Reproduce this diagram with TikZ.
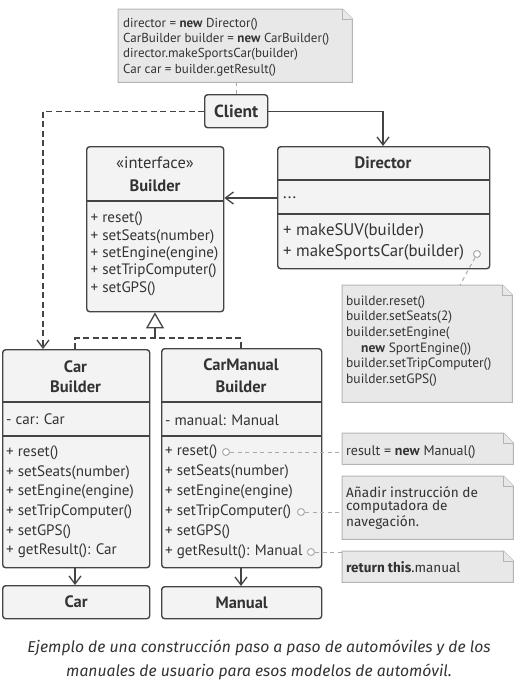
\documentclass[tikz,border=0pt]{standalone}
\usepackage{fontspec}
\setmainfont{PT Sans}
\newfontfamily\capfont{Fira Sans}
\usetikzlibrary{arrows.meta,calc}
\definecolor{lineC}{HTML}{444444}
\definecolor{boxC}{HTML}{F3F3F3}
\definecolor{noteF}{HTML}{E8E8E8}
\definecolor{noteD}{HTML}{B4B4B4}
\definecolor{textC}{HTML}{333333}
\definecolor{lightC}{HTML}{AAAAAA}
\begin{document}
\begin{tikzpicture}[x=1pt,y=-1pt,
  cls/.style={draw=lineC, fill=boxC, line width=1.4pt, rounded corners=3pt, inner sep=0pt, anchor=north west},
  sep/.style={draw=lineC, line width=1.4pt},
  notebox/.style={inner sep=0pt, anchor=north west},
  notedraw/.style={draw=noteD, fill=noteF, line width=1pt},
  txt/.style={inner sep=0pt, anchor=west, text=textC, font=\fontsize{15.1}{17}\selectfont},
  dtxt/.style={inner sep=0pt, anchor=west, text=textC, font=\fontsize{16.8}{18}\selectfont},
  ntxt/.style={inner sep=0pt, anchor=west, text=textC, font=\fontsize{13}{15}\selectfont},
  ftxt/.style={inner sep=0pt, anchor=west, text=textC, font=\capfont\fontsize{13.6}{15}\selectfont},
  ttl/.style={inner sep=0pt, text=textC, font=\fontsize{16.5}{18}\selectfont\bfseries},
  conn/.style={draw=lineC, line width=1.3pt},
  dashconn/.style={draw=lineC, line width=1.3pt, dash pattern=on 6pt off 3.5pt},
  vtip/.style={-{Straight Barb[length=8pt,width=12pt,line width=1.3pt]}},
  lightdash/.style={draw=lightC, line width=1pt, dash pattern=on 4pt off 3.5pt},
  circ/.style={circle, draw=lightC, line width=1pt, fill=white, minimum size=7pt, inner sep=0pt}
]
\useasboundingbox (0,0) rectangle (520,686);

% ---------- top note ----------
\node[notebox, minimum width=234pt, minimum height=73pt] (n0) at (118,9) {};
\draw[notedraw] (n0.north west) -- ([xshift=-10pt]n0.north east) -- ([yshift=-10pt]n0.north east) -- (n0.south east) -- (n0.south west) -- cycle;
\draw[notedraw] ([xshift=-10pt]n0.north east) -- ([xshift=-10pt,yshift=-10pt]n0.north east) -- ([yshift=-10pt]n0.north east);
\foreach \t [count=\i] in {{director = \textbf{new} Director()},{CarBuilder builder = \textbf{new} CarBuilder()},{director.makeSportsCar(builder)},{Car car = builder.getResult()}}
  \node[ntxt] (n0t\i) at (123,{24+15.3*(\i-1)}) {\t};

% ---------- Client ----------
\node[cls, minimum width=63pt, minimum height=33pt] (client) at (204,94) {};
\node[ttl, font=\fontsize{17.5}{19}\selectfont\bfseries] (clientt) at (client.center) {Client};
\draw[lightdash] (n0.south -| client.north) -- (client.north);

% ---------- Director ----------
\node[cls, minimum width=212pt, minimum height=122pt] (dir) at (277,146) {};
\draw[sep] (277,180) -- (489,180);
\draw[sep] (277,214) -- (489,214);
\node[ttl] (dirt) at (383,163) {Director};
\node[dtxt] (dirf) at (283,198) {...};
\node[dtxt] (dirm1) at (283,231) {+ makeSUV(builder)};
\node[dtxt] (dirm2) at (283,252) {+ makeSportsCar(builder)};
\node[circ] (dirc) at (477,254) {};

% ---------- Builder interface ----------
\node[cls, minimum width=137pt, minimum height=165pt] (bld) at (86,146) {};
\draw[sep] (86,201) -- (223,201);
\node[ttl, font=\fontsize{16.5}{18}\selectfont] (bldi) at (155,163) {«interface»};
\node[ttl] (bldt) at (155,186) {Builder};
\foreach \t [count=\i] in {{+ reset()},{+ setSeats(number)},{+ setEngine(engine)},{+ setTripComputer()},{+ setGPS()}}
  \node[txt] (bldm\i) at (90.5,{219+17.4*(\i-1)}) {\t};

% ---------- Director note ----------
\node[notebox, minimum width=170pt, minimum height=117pt] (n1) at (342,285) {};
\draw[notedraw] (n1.north west) -- ([xshift=-10pt]n1.north east) -- ([yshift=-10pt]n1.north east) -- (n1.south east) -- (n1.south west) -- cycle;
\draw[notedraw] ([xshift=-10pt]n1.north east) -- ([xshift=-10pt,yshift=-10pt]n1.north east) -- ([yshift=-10pt]n1.north east);
\foreach \t [count=\i] in {{builder.reset()},{builder.setSeats(2)},{builder.setEngine(},{\hspace{15pt}\textbf{new} SportEngine())},{builder.setTripComputer()},{builder.setGPS()}}
  \node[ntxt, font=\fontsize{13.5}{15}\selectfont] (n1t\i) at (346,{302+15.6*(\i-1)}) {\t};
\coordinate (n1top) at (460,285);
\draw[lightdash] (dirc) -- (n1top);

% ---------- Car Builder ----------
\node[cls, minimum width=147pt, minimum height=218pt] (cb) at (2,349) {};
\draw[sep] (2,402) -- (149,402);
\draw[sep] (2,436) -- (149,436);
\node[ttl] (cbt1) at (75.5,367) {Car};
\node[ttl] (cbt2) at (75.5,387) {Builder};
\node[txt] (cbf) at (6,419) {- car: Car};
\foreach \t [count=\i] in {{+ reset()},{+ setSeats(number)},{+ setEngine(engine)},{+ setTripComputer()},{+ setGPS()},{+ getResult(): Car}}
  \node[txt] (cbm\i) at (6,{453+19.6*(\i-1)}) {\t};

% ---------- CarManual Builder ----------
\node[cls, minimum width=160pt, minimum height=219pt] (cmb) at (161,348) {};
\draw[sep] (161,402) -- (321,402);
\draw[sep] (161,436) -- (321,436);
\node[ttl] (cmbt1) at (241,365) {CarManual};
\node[ttl] (cmbt2) at (241,387) {Builder};
\node[txt] (cmbf) at (165,420) {- manual: Manual};
\foreach \t [count=\i] in {{+ reset()},{+ setSeats(number)},{+ setEngine(engine)},{+ setTripComputer()},{+ setGPS()},{+ getResult(): Manual}}
  \node[txt] (cmbm\i) at (165,{452+20*(\i-1)}) {\t};
\node[circ] (c1) at (226,452) {};
\node[circ] (c2) at (301,512) {};
\node[circ] (c3) at (311,552) {};

% ---------- Car / Manual ----------
\node[cls, minimum width=147pt, minimum height=33pt] (car) at (2,585) {};
\node[ttl] (cart) at (car.center) {Car};
\node[cls, minimum width=160pt, minimum height=32pt] (man) at (161,586) {};
\node[ttl] (mant) at (man.center) {Manual};

% ---------- right notes ----------
\node[notebox, minimum width=171pt, minimum height=31pt] (n2) at (342,433) {};
\node[notebox, minimum width=171pt, minimum height=63pt] (n3) at (342,476) {};
\node[notebox, minimum width=171pt, minimum height=31pt] (n4) at (342,551) {};
\foreach \n in {n2,n3,n4}{
\draw[notedraw] (\n.north west) -- ([xshift=-10pt]\n.north east) -- ([yshift=-10pt]\n.north east) -- (\n.south east) -- (\n.south west) -- cycle;
\draw[notedraw] ([xshift=-10pt]\n.north east) -- ([xshift=-10pt,yshift=-10pt]\n.north east) -- ([yshift=-10pt]\n.north east);
}
\node[ntxt, font=\fontsize{14}{16}\selectfont] (n2t) at (346,452) {result = \textbf{new} Manual()};
\node[ftxt] (n3t1) at (346,492) {Añadir instrucción de};
\node[ftxt] (n3t2) at (346,507) {computadora de};
\node[ftxt] (n3t3) at (346,522) {navegación.};
\node[ftxt, font=\capfont\fontsize{13.5}{15}\selectfont] (n4t) at (346,567) {\textbf{return this}.manual};
\draw[lightdash] (c1) -- (c1 -| n2.west);
\draw[lightdash] (c2) -- (c2 -| n3.west);
\draw[lightdash] (c3) -- (c3 -| n4.west);

% ---------- connectors ----------
\coordinate (cbin) at (43,349);
\coordinate (dirin) at (383,146);
\draw[dashconn, vtip] (client.west) -| (cbin);
\draw[conn, vtip] (client.east) -| (dirin);
\draw[conn, vtip] (dir.west |- dirf) -- (bld.east |- dirf);
\coordinate (inhj) at (155,338);
\coordinate (cbtop) at (75,349);
\coordinate (cmbtop) at (241,348);
\draw[dashconn] (cbtop) |- (inhj) -| (cmbtop);
\draw[conn, -{Triangle[open,length=16pt,width=18pt,line width=1.3pt]}, fill=white] (inhj) -- (bld.south -| inhj);
\draw[conn, vtip] (cb.south -| cbtop) -- (car.north -| cbtop);
\draw[conn, vtip] (cmb.south -| cmbtop) -- (man.north -| cmbtop);

% ---------- caption ----------
\node[inner sep=0pt, text=textC, font=\capfont\itshape\fontsize{15.7}{24}\selectfont, align=center] (cap) at (259,660) {Ejemplo de una construcción paso a paso de automóviles y de los\\manuales de usuario para esos modelos de automóvil.};
\end{tikzpicture}
\end{document}
